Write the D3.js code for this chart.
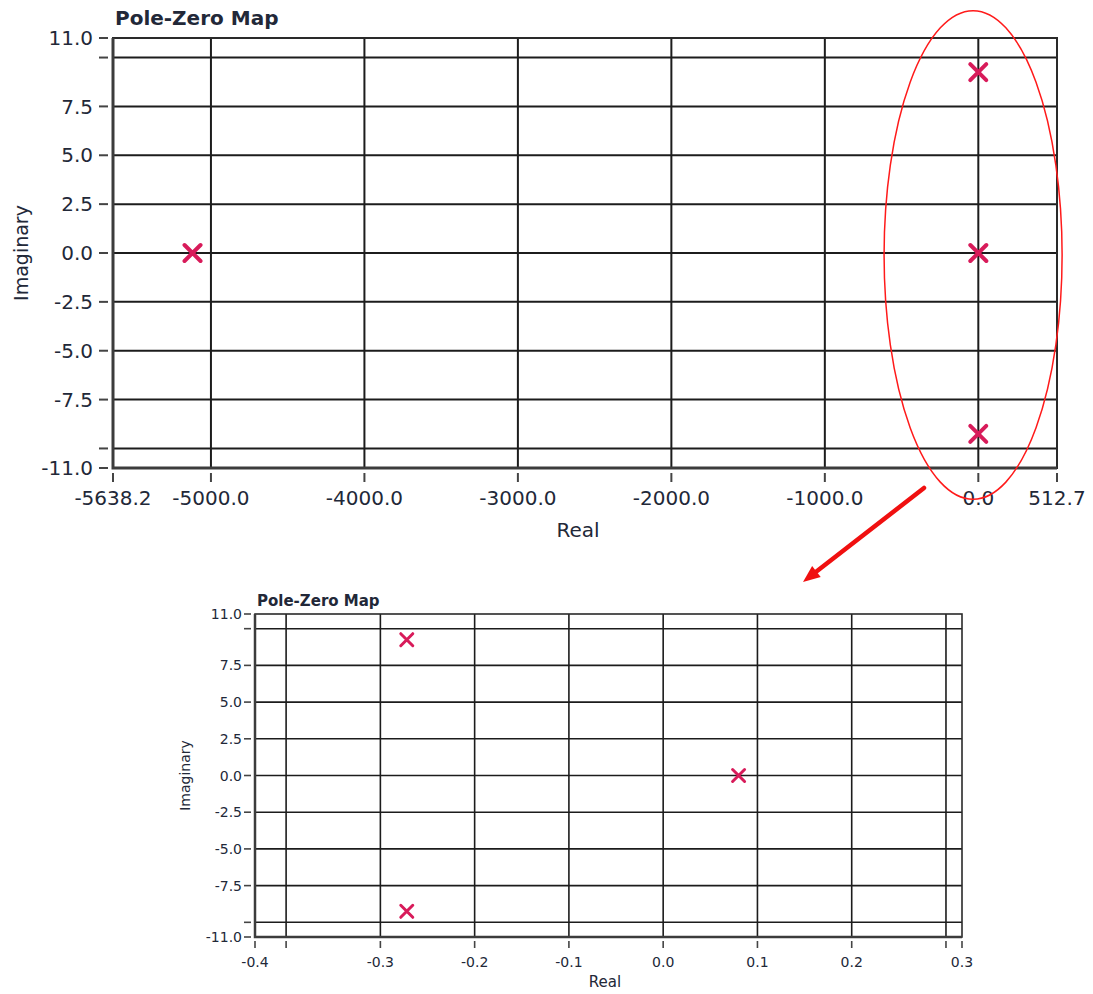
<!DOCTYPE html>
<html>
<head>
<meta charset="utf-8">
<script src="https://cdn.jsdelivr.net/npm/d3@7"></script>
<style>
  html, body { margin: 0; padding: 0; background: #ffffff; }
  svg { display: block; }
  text { font-family: "DejaVu Sans", Verdana, sans-serif; fill: #222838; }
</style>
</head>
<body>
<svg id="chart" width="1093" height="994"></svg>
<script>
// Poles of the system (real part, imaginary part)
const poleRe = [-5120, -0.272, -0.272, 0.08];
const poleIm = [0, 9.25, -9.25, 0];

// Axis ranges for the full view and the zoomed view
const fullReRange = [-5638.2, 512.7];
const zoomReRange = [-0.433, 0.317];
const imRange = [-11, 11];

// Tick spacing
const fullReStep = 1000;
const zoomReStep = 0.1;
const imStep = 2.5;

// Axis text
const titleText = "Pole-Zero Map";
const xTitle = "Real";
const yTitle = "Imaginary";

const poles = poleRe.map((re, i) => ({ re, im: poleIm[i] }));
const svg = d3.select("#chart");
const fmt1 = d3.format(".1f");
const fmt = v => fmt1(v).replace("\u2212", "-");

function stepTicks(domain, step) {
  const out = [];
  const start = Math.ceil(domain[0] / step - 1e-9);
  const end = Math.floor(domain[1] / step + 1e-9);
  for (let k = start; k <= end; k++) out.push(+(k * step).toFixed(6));
  return out.filter(v => v > domain[0] && v < domain[1]);
}

function drawMap(cfg) {
  const g = svg.append("g");
  const x = d3.scaleLinear().domain(cfg.xDomain).range([cfg.left, cfg.left + cfg.width]);
  const y = d3.scaleLinear().domain(imRange).range([cfg.top + cfg.height, cfg.top]);

  const xt = stepTicks(cfg.xDomain, cfg.xStep);
  const yt = stepTicks(imRange, imStep);

  // grid
  g.append("g").selectAll("line").data(xt).join("line")
    .attr("x1", d => x(d)).attr("x2", d => x(d))
    .attr("y1", cfg.top).attr("y2", cfg.top + cfg.height)
    .attr("stroke", "#1c1c1c").attr("stroke-width", cfg.grid);
  g.append("g").selectAll("line").data(yt).join("line")
    .attr("y1", d => y(d)).attr("y2", d => y(d))
    .attr("x1", cfg.left).attr("x2", cfg.left + cfg.width)
    .attr("stroke", "#1c1c1c").attr("stroke-width", cfg.grid);

  // frame
  g.append("rect")
    .attr("x", cfg.left).attr("y", cfg.top)
    .attr("width", cfg.width).attr("height", cfg.height)
    .attr("fill", "none").attr("stroke", "#2a2a2a").attr("stroke-width", cfg.grid);
  g.append("path")
    .attr("d", `M${cfg.left},${cfg.top}V${cfg.top + cfg.height}H${cfg.left + cfg.width}`)
    .attr("fill", "none").attr("stroke", "#3c3c3c").attr("stroke-width", cfg.axisW);

  // x ticks: end values plus inner ticks
  const xAll = [cfg.xDomain[0], ...xt, cfg.xDomain[1]];
  const xb = cfg.top + cfg.height;
  g.append("g").selectAll("line").data(xAll).join("line")
    .attr("x1", d => x(d)).attr("x2", d => x(d))
    .attr("y1", xb + cfg.tickGap).attr("y2", xb + cfg.tickGap + cfg.tickLen)
    .attr("stroke", "#444").attr("stroke-width", cfg.tickW);
  const xLab = xAll.filter((d, i) => {
    if (i === 0 || i === xAll.length - 1) return true;
    return Math.abs(x(d) - x(cfg.xDomain[0])) > cfg.xClear && Math.abs(x(d) - x(cfg.xDomain[1])) > cfg.xClear;
  });
  g.append("g").selectAll("text").data(xLab).join("text")
    .attr("x", d => x(d)).attr("y", cfg.xLabelY)
    .attr("text-anchor", "middle").attr("font-size", cfg.font)
    .text(d => fmt(d));

  // y ticks
  const yAll = [imRange[0], ...yt, imRange[1]];
  g.append("g").selectAll("line").data(yAll).join("line")
    .attr("y1", d => y(d)).attr("y2", d => y(d))
    .attr("x1", cfg.left - cfg.tickGap - cfg.tickLen).attr("x2", cfg.left - cfg.tickGap)
    .attr("stroke", "#444").attr("stroke-width", cfg.tickW);
  const yLab = yAll.filter((d, i) => {
    if (i === 0 || i === yAll.length - 1) return true;
    return Math.abs(y(d) - y(imRange[0])) > cfg.yClear && Math.abs(y(d) - y(imRange[1])) > cfg.yClear;
  });
  g.append("g").selectAll("text").data(yLab).join("text")
    .attr("x", cfg.yLabelX).attr("y", d => y(d))
    .attr("dy", "0.36em")
    .attr("text-anchor", "end").attr("font-size", cfg.font)
    .text(d => fmt(d));

  // titles
  g.append("text")
    .attr("x", cfg.left + 2).attr("y", cfg.titleY)
    .attr("font-size", cfg.titleFont).attr("font-weight", "bold")
    .attr("fill", "#111").text(titleText);
  g.append("text")
    .attr("x", cfg.xTitleX).attr("y", cfg.xTitleY)
    .attr("text-anchor", "middle").attr("font-size", cfg.axisFont)
    .text(xTitle);
  g.append("text")
    .attr("transform", `translate(${cfg.yTitleX},${cfg.top + cfg.height / 2}) rotate(-90)`)
    .attr("text-anchor", "middle").attr("font-size", cfg.axisFont - 1)
    .text(yTitle);

  // pole markers, clipped to the plot area
  const clipId = "clip" + cfg.id;
  svg.append("clipPath").attr("id", clipId).append("rect")
    .attr("x", cfg.left).attr("y", cfg.top)
    .attr("width", cfg.width).attr("height", cfg.height);
  const s = cfg.mark;
  g.append("g").attr("clip-path", `url(#${clipId})`)
    .selectAll("path").data(poles).join("path")
    .attr("d", d => {
      const px = x(d.re), py = y(d.im);
      return `M${px - s},${py - s}L${px + s},${py + s}M${px - s},${py + s}L${px + s},${py - s}`;
    })
    .attr("stroke", "#d81b5a").attr("stroke-width", cfg.markW)
    .attr("stroke-linecap", "round").attr("fill", "none");

  return { x, y };
}

const full = drawMap({
  id: "full", xDomain: fullReRange, xStep: fullReStep,
  left: 113, top: 38, width: 944, height: 430,
  grid: 2, axisW: 3, tickGap: 5, tickLen: 9, tickW: 2,
  font: 20, axisFont: 20, titleFont: 20, titleY: 25,
  xLabelY: 505, yLabelX: 93, xClear: 40, yClear: 25,
  xTitleX: 578, xTitleY: 537, yTitleX: 28,
  mark: 8, markW: 4
});

drawMap({
  id: "zoom", xDomain: zoomReRange, xStep: zoomReStep,
  left: 255, top: 614, width: 707, height: 323,
  grid: 1.6, axisW: 2.5, tickGap: 4, tickLen: 7, tickW: 1.6,
  font: 14, axisFont: 15, titleFont: 15, titleY: 606,
  xLabelY: 967, yLabelX: 242, xClear: 40, yClear: 20,
  xTitleX: 605, xTitleY: 987, yTitleX: 190,
  mark: 6, markW: 3
});

// Highlight around the poles near the origin, in full-view units
const focus = { re: -34, im: -0.1, halfRe: 580, halfIm: 12.5 };
const cx = full.x(focus.re), cy = full.y(focus.im);
const rx = full.x(focus.re + focus.halfRe) - cx;
const ry = cy - full.y(focus.im + focus.halfIm);
svg.append("ellipse")
  .attr("cx", cx).attr("cy", cy).attr("rx", rx).attr("ry", ry)
  .attr("fill", "none").attr("stroke", "#ff1a1a").attr("stroke-width", 1.5);

// Callout arrow pointing to the zoomed view
const arrowFrom = [924, 488], arrowTo = [803, 582];
const ang = Math.atan2(arrowTo[1] - arrowFrom[1], arrowTo[0] - arrowFrom[0]);
const headLen = 17, headHalf = 7;
const base = [arrowTo[0] - headLen * Math.cos(ang), arrowTo[1] - headLen * Math.sin(ang)];
svg.append("line")
  .attr("x1", arrowFrom[0]).attr("y1", arrowFrom[1])
  .attr("x2", base[0]).attr("y2", base[1])
  .attr("stroke", "#f01010").attr("stroke-width", 4.5).attr("stroke-linecap", "round");
const nx = -Math.sin(ang), ny = Math.cos(ang);
svg.append("path")
  .attr("d", `M${arrowTo[0]},${arrowTo[1]}L${base[0] + nx * headHalf},${base[1] + ny * headHalf}L${base[0] - nx * headHalf},${base[1] - ny * headHalf}Z`)
  .attr("fill", "#f01010");
</script>
</body>
</html>
